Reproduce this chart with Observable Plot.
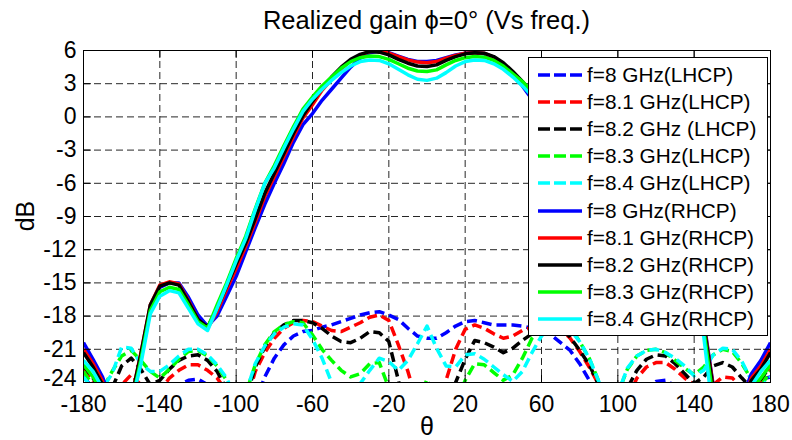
<!DOCTYPE html>
<html><head><meta charset="utf-8">
<script src="https://cdn.jsdelivr.net/npm/d3@7"></script>
<script src="https://cdn.jsdelivr.net/npm/@observablehq/plot@0.6"></script>
<style>
body{margin:0;background:#fff;}
#wrap{position:relative;width:792px;height:440px;font-family:"Liberation Sans",Arial,Helvetica,sans-serif;color:#000;overflow:hidden;}
#chart{position:absolute;left:0;top:0;}
.title{position:absolute;left:0;width:853px;top:0;height:40px;line-height:40px;text-align:center;font-size:25.5px;}
.ylab{position:absolute;left:25px;top:216px;transform:translate(-50%,-50%) rotate(-90deg);font-size:25px;white-space:nowrap;}
.xlab{position:absolute;left:427px;top:426px;transform:translate(-50%,-50%);font-size:25px;}
#legend{position:absolute;left:528px;top:57px;width:238px;height:277px;border:1px solid #000;background:#fff;}
.row{position:absolute;left:0;height:26px;display:flex;align-items:center;font-size:20.8px;white-space:nowrap;}
.row svg{margin-left:9px;margin-right:5px;}
</style></head><body>
<div id="wrap">
  <div id="chart"></div>
  <div class="title">Realized gain ϕ=0° (Vs freq.)</div>
  <div class="ylab">dB</div>
  <div class="xlab">θ</div>
  <div id="legend"></div>
</div>
<script>
// angle grid (degrees)
const theta = [-180,-175,-170,-165,-160,-155,-150,-145,-140,-135,-130,-125,
  -120,-115,-110,-105,-100,-95,-90,-85,-80,-75,-70,-65,
  -60,-55,-50,-45,-40,-35,-30,-25,-20,-15,-10,-5,
  0,5,10,15,20,25,30,35,40,45,50,55,
  60,65,70,75,80,85,90,95,100,105,110,115,
  120,125,130,135,140,145,150,155,160,165,170,175,
  180];

const xTicks = [-180,-140,-100,-60,-20,20,60,100,140,180];
const yTicks = [-24,-21,-18,-15,-12,-9,-6,-3,0,3,6];

// LHCP (dashed)
const lhcp80 = [-23.5,-24.5,-27,-30,-28,-26.5,-27,-29,-27,-25,-24.2,-23.8,
  -23.7,-24.2,-25.5,-28,-31,-30,-25.8,-23.5,-21.8,-20.6,-19.8,-19.4,
  -19.3,-19.0,-18.8,-18.5,-18.2,-17.9,-17.7,-17.6,-17.9,-18.3,-19.1,-19.8,
  -20.0,-20.0,-19.5,-18.9,-18.5,-18.4,-18.6,-18.8,-18.8,-18.8,-18.9,-19.1,
  -19.3,-19.7,-20.4,-21.1,-22.3,-23.8,-26,-29,-30,-28,-26,-24.5,
  -23.9,-23.8,-24.3,-25.5,-27,-28,-27,-26,-25.5,-25,-24.3,-23.7,
  -23.5];
const lhcp81 = [-22.8,-24.0,-26,-26,-24.2,-23.3,-24.2,-26,-24.8,-23.6,-22.9,-22.4,
  -22.4,-22.9,-23.6,-24.8,-28,-26,-23.0,-21.3,-20.0,-19.1,-18.6,-18.4,
  -18.5,-18.9,-19.3,-19.4,-19.0,-18.6,-18.1,-17.9,-18.4,-20.6,-23.0,-26,
  -29,-27,-23.8,-21.0,-19.2,-18.8,-19.1,-19.6,-20.0,-19.8,-19.3,-19.0,
  -18.7,-18.7,-19.1,-20.0,-21.2,-22.6,-24.2,-27,-28,-25.5,-23.6,-22.6,
  -22.2,-22.2,-22.8,-23.6,-24.2,-25,-24.2,-23.5,-23.6,-24.5,-25,-24,
  -22.8];
const lhcp82 = [-22.5,-23.6,-25,-24.5,-22.5,-21.8,-22.8,-24.2,-23.8,-22.8,-22.0,-21.6,
  -21.5,-22.0,-23.0,-24.6,-27,-25.5,-22.6,-20.8,-19.5,-18.8,-18.4,-18.4,
  -18.6,-19.1,-19.8,-20.3,-20.4,-20.0,-19.4,-19.5,-20.3,-23.8,-28,-30,
  -30,-29,-27,-24.0,-21.9,-20.2,-20.4,-20.8,-21.3,-20.9,-20.2,-19.6,
  -19.1,-18.8,-19.0,-19.9,-21.1,-22.4,-24.2,-26.5,-27,-24.5,-22.9,-21.9,
  -21.5,-21.6,-22.3,-23.2,-24.1,-23.5,-22.5,-22.2,-22.6,-23.6,-24.5,-23.7,
  -22.5];
const lhcp83 = [-23.0,-24.3,-24.6,-23.0,-21.6,-21.1,-22.0,-23.0,-23.6,-22.8,-21.9,-21.2,
  -21.1,-21.6,-22.5,-23.8,-26,-25,-22.4,-20.6,-19.4,-18.8,-18.5,-18.6,
  -19.7,-21.0,-22.0,-22.9,-23.5,-23.2,-22.3,-22.2,-24.5,-27,-29,-26,
  -23.7,-26,-28,-26,-23.8,-22.3,-22.4,-23.1,-23.8,-23.3,-21.8,-20.0,
  -19.0,-18.6,-18.6,-19.0,-20.3,-21.8,-23.9,-26,-25,-22.8,-21.6,-21.1,
  -21.0,-21.3,-22.0,-22.7,-23.3,-22.6,-21.5,-21.0,-21.2,-22.3,-23.7,-24.3,
  -23.0];
const lhcp84 = [-23.5,-24.6,-24.5,-23.2,-20.8,-20.9,-22.3,-23.0,-23.0,-22.4,-21.6,-21.0,
  -21.0,-21.5,-22.4,-23.6,-25.5,-25,-22.3,-20.7,-19.6,-19.0,-18.7,-18.8,
  -20.1,-21.8,-24.0,-26,-26.5,-24.1,-22.9,-21.8,-22.1,-22.9,-22.0,-20.5,
  -18.9,-20.9,-22.5,-22.6,-21.5,-21.4,-21.9,-22.6,-23.3,-23.9,-23.0,-21.3,
  -19.8,-19.0,-18.8,-19.2,-20.3,-21.8,-23.9,-26,-25,-22.7,-21.6,-21.1,
  -21.0,-21.3,-21.8,-22.5,-23.4,-22.9,-21.5,-20.9,-21.0,-22.1,-23.8,-24.4,
  -23.5];

// RHCP (solid)
const rhcp80 = [-20.4,-21.9,-23.5,-26,-29,-26,-21.8,-17.2,-15.4,-15.0,-15.0,-16.3,
  -17.9,-18.9,-18.0,-16.2,-14.4,-12.2,-10.0,-7.9,-6.0,-4.2,-2.3,-0.7,
  0.3,1.5,2.5,3.5,4.5,5.3,5.8,5.95,5.8,5.5,5.2,5.0,
  5.0,5.1,5.35,5.6,5.75,5.8,5.7,5.3,4.6,3.8,2.8,1.6,
  0.3,-1.2,-2.9,-4.8,-7.0,-9.5,-12,-14.4,-16.8,-18.8,-18.6,-16.8,
  -15.4,-14.9,-14.9,-15.5,-16.8,-18.4,-24.3,-28.5,-28.5,-25.5,-23.2,-22,
  -20.4];
const rhcp81 = [-21.0,-22.3,-23.9,-26.5,-29,-25.5,-21.4,-17.0,-15.2,-14.9,-15.1,-16.6,
  -18.3,-19.1,-17.6,-15.6,-13.7,-11.7,-9.5,-7.2,-5.4,-3.6,-1.8,-0.1,
  1.1,2.4,3.4,4.3,5.1,5.6,5.9,5.95,5.75,5.45,5.15,4.95,
  4.9,5.0,5.3,5.55,5.75,5.8,5.75,5.4,4.8,3.95,3.0,1.9,
  0.7,-0.8,-2.4,-4.2,-6.4,-9.0,-11.5,-14.0,-16.4,-18.5,-18.9,-17.0,
  -15.5,-14.9,-14.9,-15.6,-17.0,-18.6,-24.4,-28.5,-28.5,-26,-23.6,-22.5,
  -21.0];
const rhcp82 = [-21.3,-22.6,-24.2,-27,-29,-25.5,-21.5,-17.0,-15.3,-15.0,-15.2,-16.7,
  -18.3,-19.0,-17.3,-15.3,-13.3,-11.4,-9.2,-6.9,-5.1,-3.3,-1.5,0.1,
  1.4,2.6,3.6,4.5,5.2,5.65,5.9,5.85,5.6,5.2,4.85,4.6,
  4.55,4.7,5.1,5.45,5.7,5.8,5.75,5.45,4.9,4.1,3.2,2.2,
  1.0,-0.5,-2.1,-3.9,-6.1,-8.7,-11.2,-13.7,-16.2,-18.3,-18.9,-17.0,
  -15.6,-15.0,-15.0,-15.8,-17.2,-18.8,-24.6,-28.5,-28.5,-26,-23.8,-22.8,
  -21.3];
const rhcp83 = [-22.4,-23.5,-25,-27.5,-29,-26,-22,-17.5,-15.8,-15.4,-15.6,-17.0,
  -18.5,-19.1,-17.0,-15.0,-12.8,-10.8,-8.3,-6.0,-4.4,-2.6,-0.9,0.7,
  1.8,2.8,3.6,4.4,5.0,5.35,5.5,5.45,5.2,4.8,4.4,4.15,
  4.1,4.25,4.7,5.1,5.35,5.45,5.4,5.1,4.6,3.9,3.2,2.3,
  1.2,-0.2,-1.7,-3.5,-5.7,-8.2,-10.7,-13.2,-15.7,-18.0,-19.0,-17.2,
  -15.9,-15.3,-15.4,-16.2,-17.5,-19.2,-25.5,-29,-29,-26.5,-24.5,-23.6,
  -22.4];
const rhcp84 = [-22.0,-23.0,-24.5,-27,-29,-26,-22.4,-17.8,-16.2,-15.7,-15.9,-17.3,
  -18.7,-19.3,-17.3,-15.2,-13.0,-11.0,-8.4,-6.0,-4.6,-2.8,-1.1,0.5,
  1.6,2.5,3.3,4.0,4.6,5.0,5.15,5.1,4.8,4.3,3.8,3.4,
  3.3,3.5,4.0,4.6,5.0,5.15,5.1,4.8,4.3,3.6,2.8,1.9,
  0.8,-0.5,-2.0,-3.8,-6.0,-8.5,-11,-13.5,-16,-18.3,-19.2,-17.5,
  -16.2,-15.6,-15.7,-16.5,-17.8,-19.8,-27,-30,-29,-26,-24.3,-23,
  -22.0];

const seriesLabels = ["f=8 GHz(LHCP)","f=8.1 GHz(LHCP)","f=8.2 GHz (LHCP)","f=8.3 GHz(LHCP)","f=8.4 GHz(LHCP)",
  "f=8 GHz(RHCP)","f=8.1 GHz(RHCP)","f=8.2 GHz(RHCP)","f=8.3 GHz(RHCP)","f=8.4 GHz(RHCP)"];
const seriesValues = [lhcp80,lhcp81,lhcp82,lhcp83,lhcp84,rhcp80,rhcp81,rhcp82,rhcp83,rhcp84];
const seriesColors = ["#0000ff","#ff0000","#000000","#00ff00","#00ffff","#0000ff","#ff0000","#000000","#00ff00","#00ffff"];
const seriesDashed = [true,true,true,true,true,false,false,false,false,false];

const LW = 3.5, DASH = "10,5";
const tickShape = {draw(ctx, l) { ctx.moveTo(0, 0); ctx.lineTo(0, -l); }};

const lineMarks = seriesValues.map((vals, i) =>
  Plot.line(theta.map((t, j) => ({t, v: vals[j]})), {
    x: "t", y: "v", stroke: seriesColors[i], strokeWidth: LW,
    strokeDasharray: seriesDashed[i] ? DASH : null, clip: true,
    strokeLinejoin: "round", strokeLinecap: "butt"
  })
);

const yLow = yTicks.slice(0, 1), yRest = yTicks.slice(1);
const axisOpts = {anchor: "left", tickSize: 0, tickPadding: 7, fontSize: 23, label: null, tickFormat: d => String(d), fill: "#000"};

const chart = Plot.plot({
  width: 792, height: 440,
  marginTop: 50, marginBottom: 58, marginLeft: 83, marginRight: 22,
  style: {fontFamily: "'Liberation Sans', Arial, sans-serif", background: "transparent", color: "#000"},
  x: {domain: [-180, 180], label: null},
  y: {domain: [-24, 6], label: null},
  marks: [
    Plot.gridX(xTicks, {stroke: "#000", strokeOpacity: 0.85, strokeWidth: 1, strokeDasharray: "7,4"}),
    Plot.gridY(yTicks, {stroke: "#000", strokeOpacity: 0.85, strokeWidth: 1, strokeDasharray: "7,4"}),
    ...lineMarks,
    Plot.frame({stroke: "#000", strokeWidth: 1}),
    Plot.vector(xTicks, {x: d => d, frameAnchor: "bottom", length: 7, rotate: 0, anchor: "start", shape: tickShape, stroke: "#000", strokeWidth: 1}),
    Plot.vector(xTicks, {x: d => d, frameAnchor: "top", length: 7, rotate: 180, anchor: "start", shape: tickShape, stroke: "#000", strokeWidth: 1}),
    Plot.vector(yTicks, {y: d => d, frameAnchor: "left", length: 7, rotate: 90, anchor: "start", shape: tickShape, stroke: "#000", strokeWidth: 1}),
    Plot.vector(yTicks, {y: d => d, frameAnchor: "right", length: 7, rotate: -90, anchor: "start", shape: tickShape, stroke: "#000", strokeWidth: 1}),
    Plot.axisX(xTicks, {anchor: "bottom", tickSize: 0, tickPadding: 13, fontSize: 23, label: null, tickFormat: d => String(d), fill: "#000"}),
    Plot.axisY(yRest, axisOpts),
    Plot.axisY(yLow, {...axisOpts, dy: -4})
  ]
});
document.getElementById("chart").appendChild(chart);

// legend
const legend = document.getElementById("legend");
const rowTops = 17; // first row centre offset inside box
seriesLabels.forEach((lab, i) => {
  const row = document.createElement("div");
  row.className = "row";
  row.style.top = (rowTops + i * 27.1 - 13) + "px";
  const ns = "http://www.w3.org/2000/svg";
  const svg = document.createElementNS(ns, "svg");
  svg.setAttribute("width", 44); svg.setAttribute("height", 10);
  const ln = document.createElementNS(ns, "line");
  ln.setAttribute("x1", 0); ln.setAttribute("x2", 44);
  ln.setAttribute("y1", 5); ln.setAttribute("y2", 5);
  ln.setAttribute("stroke", seriesColors[i]);
  ln.setAttribute("stroke-width", LW);
  if (seriesDashed[i]) ln.setAttribute("stroke-dasharray", "12,4");
  svg.appendChild(ln);
  row.appendChild(svg);
  const sp = document.createElement("span");
  sp.textContent = lab;
  row.appendChild(sp);
  legend.appendChild(row);
});
</script>
</body></html>
